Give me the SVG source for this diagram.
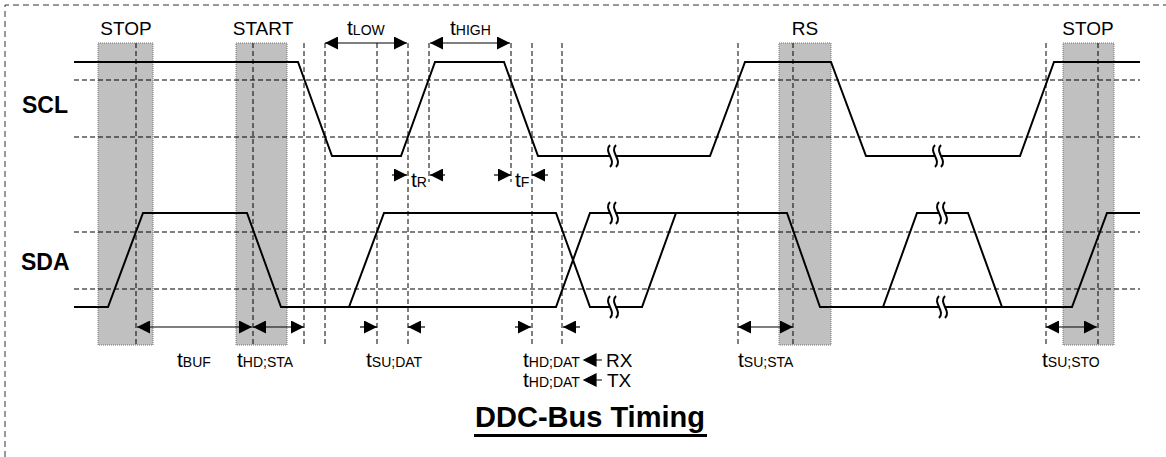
<svg xmlns="http://www.w3.org/2000/svg" xmlns:xlink="http://www.w3.org/1999/xlink" width="1166" height="457" viewBox="0 0 1166 457">
<style>
.txt{font-family:"Liberation Sans",Arial,sans-serif;fill:#000}
.lbl{font-size:19px}
.sig{font-size:23px;font-weight:bold}
.sub{font-size:14px}
.tt{font-size:21px}
.wave{fill:none;stroke:#000;stroke-width:2;stroke-linejoin:miter}
.lvl{stroke:#000;stroke-width:1;stroke-dasharray:5,3;fill:none}
.vl{stroke:#000;stroke-width:1;stroke-dasharray:5,3;fill:none}
.shade{fill:#c0c0c0;stroke:#777;stroke-width:1;stroke-dasharray:1,1}
.arr{stroke:#000;stroke-width:1.2;fill:none}
</style>
<defs>
<marker id="ah" markerUnits="userSpaceOnUse" markerWidth="13" markerHeight="13" refX="13" refY="6.5" orient="auto-start-reverse">
<path d="M0,0 L13,6.5 L0,13 z" fill="#000"/>
</marker>
<path id="sq" d="M-3,-11 C-10,-4 4,4 -3,11 M3,-11 C-4,-4 10,4 3,11" fill="none" stroke="#000" stroke-width="2"/>
</defs>

<g id="frame">
<path d="M5,457 V5 H1166" fill="none" stroke="#333" stroke-width="1" stroke-dasharray="6,4"/>
</g>

<g id="shaded-regions">
<rect class="shade" x="98" y="43" width="55" height="302"/>
<rect class="shade" x="236" y="43" width="51" height="302"/>
<rect class="shade" x="779" y="43" width="52" height="302"/>
<rect class="shade" x="1063" y="43" width="51" height="302"/>
</g>

<g id="levels">
<path class="lvl" d="M74,80 H1140 M74,137 H1140 M74,232 H1140 M74,289 H1140"/>
</g>

<g id="timing-lines">
<path class="vl" d="M136,43 V345 M253,43 V345 M793,43 V345 M1098,43 V345"/>
<path class="vl" d="M304,43 V345 M325,43 V345 M377,43 V345 M408,43 V345 M532,43 V345 M562,43 V345 M738,43 V345 M1046,43 V345"/>
<path class="vl" d="M429,43 V182 M511,43 V182"/>
</g>

<g id="SCL">
<text class="txt sig" x="22" y="113">SCL</text>
<path class="wave" d="M74,62 H298 L332,156 H401 L435,62 H504 L538,156 H610 M616,156 H710 L745,62 H831 L866,156 H935 M941,156 H1020 L1054,62 H1140"/>
<use xlink:href="#sq" x="613" y="156"/>
<use xlink:href="#sq" x="938" y="156"/>
</g>

<g id="SDA">
<text class="txt sig" x="21" y="270">SDA</text>
<path class="wave" d="M74,307 H108 L143,213 H247 L281,307 H556 L590,213 H610 M616,213 H787 L820,307 H939 M945,307 H1072 L1107,213 H1140"/>
<path class="wave" d="M349,307 L384,213 H556 L590,307 H610 M616,307 H642 L676,213"/>
<path class="wave" d="M883,307 L917,213 H939 M945,213 H968 L1002,307"/>
<use xlink:href="#sq" x="613" y="213"/>
<use xlink:href="#sq" x="613" y="307"/>
<use xlink:href="#sq" x="942" y="213"/>
<use xlink:href="#sq" x="942" y="307"/>
</g>

<g id="connectors">
<line class="arr" x1="325" y1="43" x2="407" y2="43" marker-start="url(#ah)" marker-end="url(#ah)"/>
<line class="arr" x1="430" y1="43" x2="510" y2="43" marker-start="url(#ah)" marker-end="url(#ah)"/>
<line class="arr" x1="392" y1="175" x2="407" y2="175" marker-end="url(#ah)"/>
<line class="arr" x1="445" y1="175" x2="430" y2="175" marker-end="url(#ah)"/>
<line class="arr" x1="494" y1="175" x2="511" y2="175" marker-end="url(#ah)"/>
<line class="arr" x1="548" y1="175" x2="532" y2="175" marker-end="url(#ah)"/>
<line class="arr" x1="137" y1="327" x2="252" y2="327" marker-start="url(#ah)" marker-end="url(#ah)"/>
<line class="arr" x1="253" y1="327" x2="304" y2="327" marker-start="url(#ah)" marker-end="url(#ah)"/>
<line class="arr" x1="360" y1="327" x2="377" y2="327" marker-end="url(#ah)"/>
<line class="arr" x1="425" y1="327" x2="408" y2="327" marker-end="url(#ah)"/>
<line class="arr" x1="515" y1="327" x2="531" y2="327" marker-end="url(#ah)"/>
<line class="arr" x1="580" y1="327" x2="563" y2="327" marker-end="url(#ah)"/>
<line class="arr" x1="738" y1="327" x2="793" y2="327" marker-start="url(#ah)" marker-end="url(#ah)"/>
<line class="arr" x1="1046" y1="327" x2="1097" y2="327" marker-start="url(#ah)" marker-end="url(#ah)"/>
<path d="M584,360 L596,354 L596,366 z M596,360 H602" fill="#000" stroke="#000" stroke-width="1.2"/>
<path d="M584,380 L596,374 L596,386 z M596,380 H602" fill="#000" stroke="#000" stroke-width="1.2"/>
</g>

<g id="labels">
<text class="txt lbl" x="126" y="35" text-anchor="middle">STOP</text>
<text class="txt lbl" x="263" y="35" text-anchor="middle">START</text>
<text class="txt lbl" x="805" y="35" text-anchor="middle">RS</text>
<text class="txt lbl" x="1088" y="35" text-anchor="middle">STOP</text>
<text class="txt tt" x="347" y="35">t<tspan class="sub">LOW</tspan></text>
<text class="txt tt" x="450" y="35">t<tspan class="sub">HIGH</tspan></text>
<text class="txt tt" x="411" y="187">t<tspan class="sub">R</tspan></text>
<text class="txt tt" x="515" y="187">t<tspan class="sub">F</tspan></text>
<text class="txt tt" x="177" y="367">t<tspan class="sub">BUF</tspan></text>
<text class="txt tt" x="237" y="367">t<tspan class="sub">HD;STA</tspan></text>
<text class="txt tt" x="366" y="367">t<tspan class="sub">SU;DAT</tspan></text>
<text class="txt tt" x="523" y="367">t<tspan class="sub">HD;DAT</tspan></text>
<text class="txt lbl" x="606" y="367">RX</text>
<text class="txt tt" x="523" y="387">t<tspan class="sub">HD;DAT</tspan></text>
<text class="txt lbl" x="607" y="387">TX</text>
<text class="txt tt" x="738" y="367">t<tspan class="sub">SU;STA</tspan></text>
<text class="txt tt" x="1042" y="367">t<tspan class="sub">SU;STO</tspan></text>
</g>

<g id="title">
<text class="txt" x="590" y="427" text-anchor="middle" font-size="29" font-weight="bold">DDC-Bus Timing</text>
<rect x="474" y="434" width="233" height="3" fill="#000"/>
</g>
</svg>
